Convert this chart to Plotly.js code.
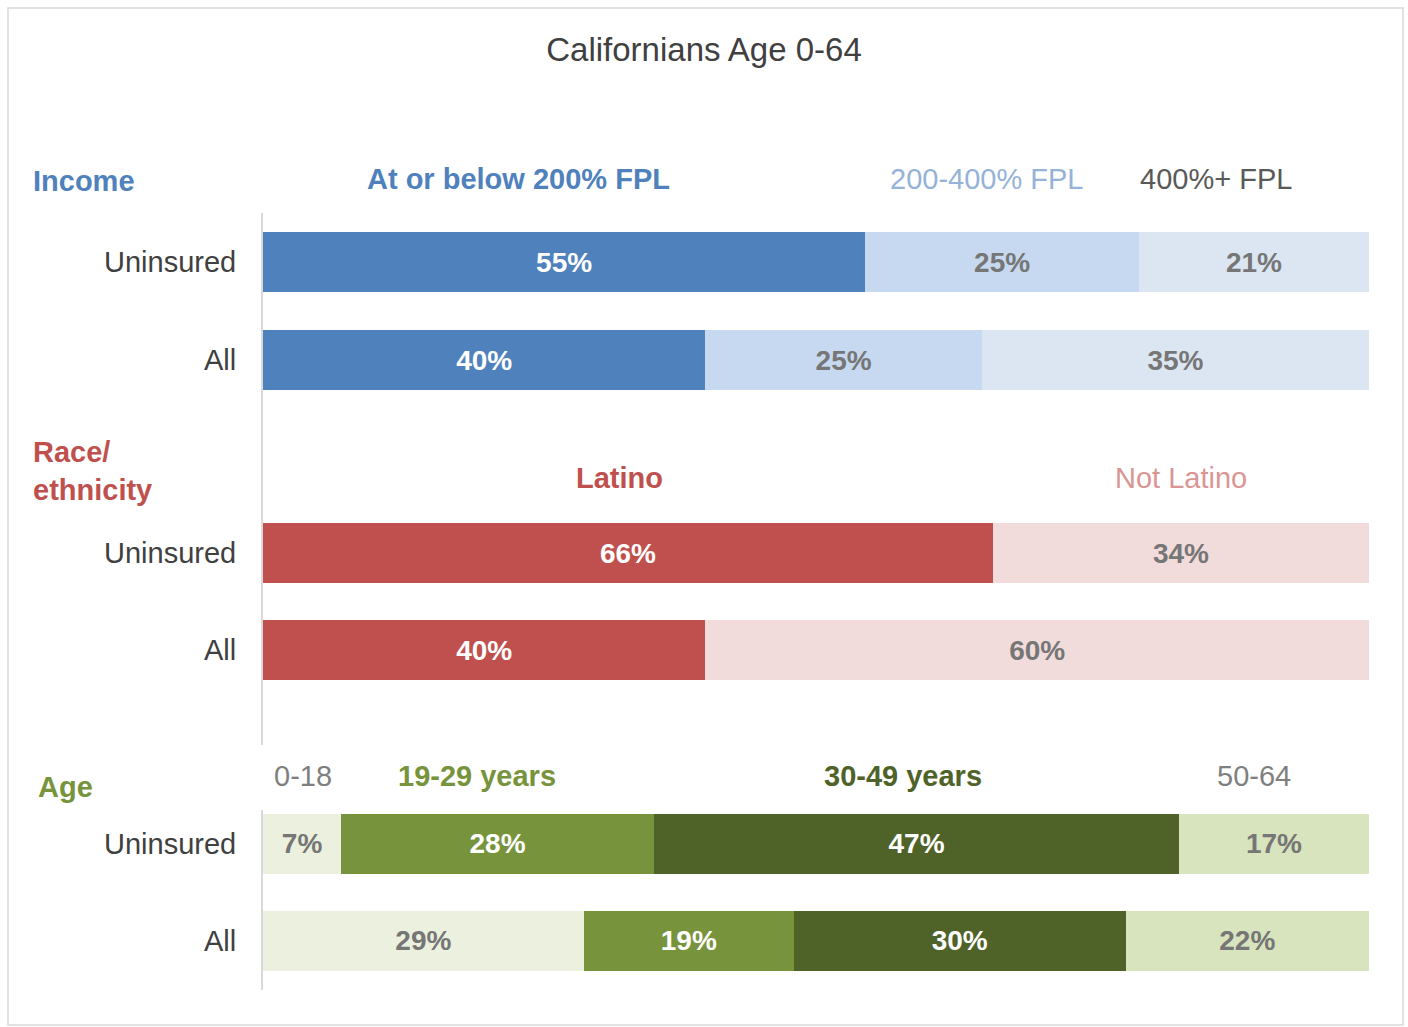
<!DOCTYPE html>
<html>
<head>
<meta charset="utf-8">
<script src="https://cdn.plot.ly/plotly-3.0.1.min.js"></script>
<style>
  html, body { margin: 0; padding: 0; background: #ffffff; }
  #chart { width: 1408px; height: 1027px; }
</style>
</head>
<body>
<div id="chart"></div>
<script>
// ---------- data ----------
const chartTitle = 'Californians Age 0-64';
const rowLabels = ['Uninsured', 'All'];

const incomeGroups = ['At or below 200% FPL', '200-400% FPL', '400%+ FPL'];
const incomeUninsured = [55, 25, 21];
const incomeAll = [40, 25, 35];

const raceGroups = ['Latino', 'Not Latino'];
const raceUninsured = [66, 34];
const raceAll = [40, 60];

const ageGroups = ['0-18', '19-29 years', '30-49 years', '50-64'];
const ageUninsured = [7, 28, 47, 17];
const ageAll = [29, 19, 30, 22];

const sectionTitles = ['Income', 'Race/<br>ethnicity', 'Age'];

// ---------- styles ----------
const FONT = 'Liberation Sans, Arial, Helvetica, sans-serif';
const incomeColors = ['#4f81bd', '#c6d9f0', '#dce6f2'];
const incomeText = ['#ffffff', '#767676', '#767676'];
const incomeHeadColors = ['#4f81bd', '#95b3d7', '#595959'];
const incomeHeadBold = [true, false, false];

const raceColors = ['#c0504d', '#f2dcdb'];
const raceText = ['#ffffff', '#767676'];
const raceHeadColors = ['#c0504d', '#d99694'];
const raceHeadBold = [true, false];

const ageColors = ['#ebf1de', '#77933c', '#4f6228', '#d7e4bd'];
const ageText = ['#767676', '#ffffff', '#ffffff', '#767676'];
const ageHeadColors = ['#7f7f7f', '#77933c', '#4f6228', '#7f7f7f'];
const ageHeadBold = [false, true, true, false];

const sectionColors = ['#4f81bd', '#c0504d', '#77933c'];

// plot-area pixel geometry
const W = 1408, H = 1027;
const L = 263, R = 1369, T = 213, B = 990;
const px2x = p => (p - L) / (R - L);
const py2y = p => (B - p) / (B - T);

// ---------- traces ----------
const traces = [];
function addGroup(names, uninsured, all, colors, textColors, ax) {
  names.forEach((n, i) => {
    traces.push({
      type: 'bar',
      orientation: 'h',
      name: n,
      y: rowLabels,
      x: [uninsured[i], all[i]],
      text: [uninsured[i], all[i]].map(String),
      texttemplate: '%{text}%',
      textposition: 'inside',
      insidetextanchor: 'middle',
      constraintext: 'none',
      textfont: { family: FONT, size: 28, color: textColors[i], weight: 'bold' },
      marker: { color: colors[i], line: { width: 0 } },
      xaxis: 'x' + (ax === 1 ? '' : ax),
      yaxis: 'y' + (ax === 1 ? '' : ax),
      hoverinfo: 'skip'
    });
  });
}
addGroup(incomeGroups, incomeUninsured, incomeAll, incomeColors, incomeText, 1);
addGroup(raceGroups, raceUninsured, raceAll, raceColors, raceText, 2);
addGroup(ageGroups, ageUninsured, ageAll, ageColors, ageText, 3);

// ---------- axes ----------
function yAx(domainPx, rangeVals) {
  return {
    type: 'category',
    categoryorder: 'array',
    categoryarray: ['All', 'Uninsured'],
    domain: [py2y(domainPx[1]), py2y(domainPx[0])],
    range: rangeVals,
    showline: true,
    linecolor: '#d9d9d9',
    linewidth: 2,
    showgrid: false,
    zeroline: false,
    ticks: '',
    ticklabelstandoff: 19,
    tickfont: { family: FONT, size: 29, color: '#404040' },
    fixedrange: true
  };
}
function xAx(anchor) {
  return {
    domain: [0, 1], range: [0, 100], visible: false, showgrid: false,
    zeroline: false, anchor: anchor, fixedrange: true
  };
}

// ---------- annotations ----------
const annotations = [];
function head(text, cx, cy, color, bold) {
  annotations.push({
    text: text, xref: 'paper', yref: 'paper', x: px2x(cx), y: py2y(cy),
    xanchor: 'center', yanchor: 'middle', showarrow: false,
    font: { family: FONT, size: 29, color: color, weight: bold ? 'bold' : 'normal' }
  });
}
const incomeHeadX = [518, 986, 1216];
incomeGroups.forEach((g, i) => head(g, incomeHeadX[i], 179, incomeHeadColors[i], incomeHeadBold[i]));
const raceHeadX = [619, 1181];
raceGroups.forEach((g, i) => head(g, raceHeadX[i], 478, raceHeadColors[i], raceHeadBold[i]));
const ageHeadX = [303, 477, 903, 1254];
ageGroups.forEach((g, i) => head(g, ageHeadX[i], 776, ageHeadColors[i], ageHeadBold[i]));

const sectionPos = [[31, 181], [31, 471], [36, 787]];
sectionTitles.forEach((s, i) => {
  annotations.push({
    text: s, xref: 'paper', yref: 'paper',
    x: px2x(sectionPos[i][0]), y: py2y(sectionPos[i][1]),
    xanchor: 'left', yanchor: 'middle', align: 'left', showarrow: false,
    font: { family: FONT, size: 29, color: sectionColors[i], weight: 'bold' }
  });
});

const layout = {
  width: W, height: H,
  paper_bgcolor: '#ffffff',
  plot_bgcolor: '#ffffff',
  margin: { l: L, r: W - R, t: T, b: H - B, pad: 0 },
  barmode: 'stack',
  barnorm: 'percent',
  bargap: 0.39,
  showlegend: false,
  font: { family: FONT, color: '#404040' },
  title: {
    text: chartTitle,
    x: 0.5, xref: 'container', xanchor: 'center',
    y: 1 - 49 / H, yref: 'container', yanchor: 'middle',
    font: { family: FONT, size: 33, color: '#404040' }
  },
  xaxis: xAx('y'),
  xaxis2: xAx('y2'),
  xaxis3: xAx('y3'),
  yaxis: Object.assign(yAx([213, 420], [-0.612, 1.5]), { anchor: 'x' }),
  yaxis2: Object.assign(yAx([420, 745], [-0.979, 2.371]), { anchor: 'x2' }),
  yaxis3: Object.assign(yAx([810, 990], [-0.505, 1.35]), { anchor: 'x3' }),
  annotations: annotations,
  shapes: [{
    type: 'rect', xref: 'paper', yref: 'paper',
    x0: px2x(8), x1: px2x(1403), y0: py2y(1025), y1: py2y(8),
    line: { color: '#d9d9d9', width: 1.5 }, fillcolor: 'rgba(0,0,0,0)', layer: 'below'
  }]
};

Plotly.newPlot('chart', traces, layout, { displayModeBar: false, staticPlot: true });
</script>
</body>
</html>
